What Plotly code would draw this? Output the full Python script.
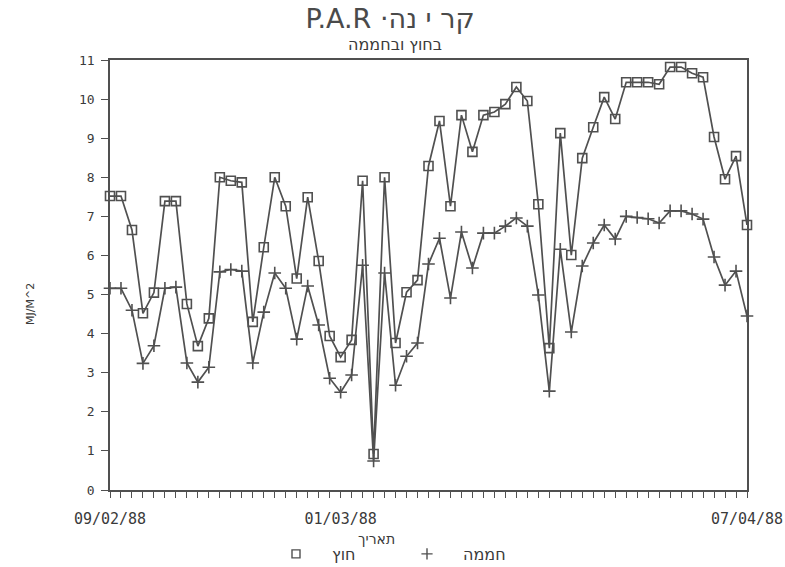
import pandas as pd
import plotly.graph_objects as go

dates = pd.date_range("1988-02-09", "1988-04-07", freq="D")
label_dates = ["1988-02-09", "1988-03-01", "1988-04-07"]

outside = [7.52, 7.52, 6.65, 4.52, 5.05, 7.39, 7.39, 4.76, 3.68, 4.39,
           8.00, 7.91, 7.87, 4.30, 6.21, 8.00, 7.26, 5.41, 7.49, 5.86,
           3.94, 3.40, 3.84, 7.91, 0.92, 8.00, 3.76, 5.06, 5.37, 8.29,
           9.44, 7.26, 9.59, 8.65, 9.59, 9.67, 9.87, 10.31, 9.95, 7.31,
           3.63, 9.13, 6.01, 8.49, 9.28, 10.05, 9.49, 10.43, 10.43, 10.43,
           10.38, 10.82, 10.82, 10.66, 10.56, 9.03, 7.95, 8.54, 6.78]

greenhouse = [5.16, 5.16, 4.60, 3.24, 3.69, 5.16, 5.19, 3.25, 2.76, 3.14,
              5.58, 5.64, 5.60, 3.25, 4.55, 5.55, 5.16, 3.86, 5.22, 4.22,
              2.86, 2.50, 2.94, 5.75, 0.74, 5.55, 2.68, 3.42, 3.76, 5.78,
              6.44, 4.91, 6.60, 5.68, 6.57, 6.57, 6.75, 6.96, 6.75, 4.99,
              2.53, 6.16, 4.04, 5.73, 6.32, 6.78, 6.42, 7.00, 6.97, 6.94,
              6.83, 7.14, 7.14, 7.06, 6.93, 5.96, 5.24, 5.60, 4.45]

name_out = "חוץ"
name_in = "חממה"

ink = "#505050"
font = "DejaVu Sans"
mono = "DejaVu Sans Mono"

# plot area in pixels (for converting layout positions to paper coords)
L, R, T, B = 110, 747, 60, 490
def px(x):
    return (x - L) / (R - L)
def py(y):
    return (B - y) / (B - T)

fig = go.Figure()
fig.add_trace(go.Scatter(x=dates, y=outside, mode="lines+markers", showlegend=False,
                         line=dict(color=ink, width=1.7),
                         marker=dict(symbol="square-open", size=9, color=ink, line=dict(width=1.6)),
                         cliponaxis=False))
fig.add_trace(go.Scatter(x=dates, y=greenhouse, mode="lines+markers", showlegend=False,
                         line=dict(color=ink, width=1.7),
                         marker=dict(symbol="cross-thin-open", size=9, color=ink, line=dict(width=1.6, color=ink)),
                         cliponaxis=False))
# legend-only entries (markers without line, as in the original)
fig.add_trace(go.Scatter(x=[None], y=[None], mode="markers", name=name_out,
                         marker=dict(symbol="square-open", size=8, color=ink, line=dict(width=1.4))))
fig.add_trace(go.Scatter(x=[None], y=[None], mode="markers", name=name_in,
                         marker=dict(symbol="cross-thin-open", size=8, color=ink, line=dict(width=1.4, color=ink))))

ticktext = [d.strftime("%d/%m/%y") if d.strftime("%Y-%m-%d") in label_dates else "" for d in dates]

fig.update_layout(
    width=785, height=567,
    margin=dict(l=L, r=785 - R, t=T, b=567 - B, autoexpand=False),
    paper_bgcolor="white", plot_bgcolor="white",
    font=dict(family=font, color="#3a3a3a"),
    title=dict(text="P.A.R ·קר י נה", x=390 / 785, xanchor="center", y=1 - 19 / 567, yanchor="middle",
               font=dict(size=27, family=font, color="#4a4a4a")),
    showlegend=True,
    legend=dict(orientation="h", x=px(260), xanchor="left", y=py(537), yanchor="top",
                itemwidth=62, entrywidth=54, entrywidthmode="pixels", font=dict(size=16, family=font),
                bgcolor="rgba(0,0,0,0)"),
    xaxis=dict(range=[dates[0], dates[-1]], tickmode="array", tickvals=dates, ticktext=ticktext,
               ticks="outside", ticklen=6, tickwidth=1.3, tickcolor=ink, tickangle=0,
               ticklabelstandoff=8, automargin=False,
               tickfont=dict(size=15, family=mono, color="#3a3a3a"),
               showline=True, linecolor=ink, linewidth=1.5, mirror=True, showgrid=False, zeroline=False),
    yaxis=dict(range=[0, 11], tickmode="linear", tick0=0, dtick=1,
               ticks="outside", ticklen=7, tickwidth=1.3, tickcolor=ink,
               ticklabelstandoff=4, automargin=False,
               tickfont=dict(size=13, family=mono, color="#3a3a3a"),
               showline=True, linecolor=ink, linewidth=1.5, mirror=True, showgrid=False, zeroline=False),
    annotations=[
        dict(text="בחוץ ובחממה", xref="paper", yref="paper", x=px(395), y=py(45),
             xanchor="center", yanchor="middle", showarrow=False, font=dict(size=16, family=font, color="#3a3a3a")),
        dict(text="תאריך", xref="paper", yref="paper", x=px(376), y=py(539),
             xanchor="center", yanchor="middle", showarrow=False, font=dict(size=14, family=font, color="#3a3a3a")),
        dict(text="MJ/M^2", xref="paper", yref="paper", x=px(30), y=py(304), textangle=-90,
             xanchor="center", yanchor="middle", showarrow=False, font=dict(size=11, family=font, color="#3a3a3a")),
    ],
)

fig.write_html("out.html")
